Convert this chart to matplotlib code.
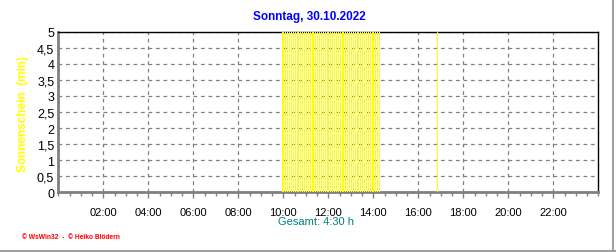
import matplotlib
matplotlib.use("Agg")
import matplotlib.pyplot as plt
from matplotlib.ticker import MultipleLocator, FixedLocator, FuncFormatter

plt.rcParams['font.family'] = ['Liberation Sans', 'DejaVu Sans']

title = "Sonntag, 30.10.2022"
ylabel = "Sonnenschein  (min)"
total_label = "Gesamt: 4:30 h"
footer = "\u00a9 WsWin32  -  \u00a9 Heiko Blödern"

# sunshine intervals (end time, hh:mm) and minutes of sunshine per 5-min interval
times = ["09:55", "10:00", "10:05", "10:10", "10:15", "10:20", "10:25", "10:30",
         "10:35", "10:40", "10:45", "10:50", "10:55", "11:00", "11:05", "11:10",
         "11:15", "11:20", "11:25", "11:30", "11:35", "11:40", "11:45", "11:50",
         "11:55", "12:00", "12:05", "12:10", "12:15", "12:20", "12:25", "12:30",
         "12:35", "12:40", "12:45", "12:50", "12:55", "13:00", "13:05", "13:10",
         "13:15", "13:20", "13:25", "13:30", "13:35", "13:40", "13:45", "13:50",
         "13:55", "14:00", "14:05", "14:10", "14:15", "16:50"]
values = [5, 5, 5, 5, 5, 5, 5, 5, 5, 5, 5, 5, 5, 5, 5, 5, 5, 5, 5, 5, 5, 5, 5, 5,
          5, 5, 5, 5, 5, 5, 5, 5, 5, 5, 5, 5, 5, 5, 5, 5, 5, 5, 5, 5, 5, 5, 5, 5,
          5, 5, 5, 5, 5, 5]
x_tick_labels = ["02:00", "04:00", "06:00", "08:00", "10:00", "12:00",
                 "14:00", "16:00", "18:00", "20:00", "22:00"]

hours = [int(t[:2]) + int(t[3:]) / 60 for t in times]

fig = plt.figure(figsize=(6.16, 2.53), dpi=100)
ax = fig.add_axes([58.4/616, 1-193/253, 540/616, (193-33)/253])

ax.vlines(hours, 0, values, colors="#ffff00", linewidth=0.55, antialiased=False, zorder=3)

ax.set_xlim(0, 24)
ax.set_ylim(0, 5)

major_x = [int(l[:2]) for l in x_tick_labels]
ax.xaxis.set_major_locator(FixedLocator(major_x))
ax.set_xticklabels(x_tick_labels)
ax.xaxis.set_minor_locator(MultipleLocator(0.5))
ax.yaxis.set_major_locator(MultipleLocator(0.5))
ax.yaxis.set_major_formatter(FuncFormatter(lambda v, p: f"{v:g}".replace(".", ",")))

ax.grid(True, which="major", color="#808080", linestyle=(0, (3, 3)), linewidth=0.9, zorder=1)

ax.tick_params(axis="x", which="major", direction="out", length=4, width=1,
               color="#808080", labelsize=8, pad=7)
ax.tick_params(axis="x", which="minor", direction="out", length=3, width=1, color="#808080")
ax.tick_params(axis="y", which="major", length=0, labelsize=9, pad=3)

for s in ["left", "bottom"]:
    ax.spines[s].set_color("#808080")
    ax.spines[s].set_linewidth(2)
for s in ["top", "right"]:
    ax.spines[s].set_color("black")
    ax.spines[s].set_linewidth(1)

fig.text(23/616, 1-114/253, ylabel, rotation=90, color="#ffff00", fontweight="bold",
         fontsize=8.5, ha="center", va="center")
fig.text(309/616, 1-17/253, title, color="#0000ff", fontweight="bold",
         fontsize=8.5, ha="center", va="center")
fig.text(316/616, 1-222/253, total_label, color="#008080",
         fontsize=8, ha="center", va="center")
fig.text(22/616, 1-238/253, footer, color="#ff0000", fontsize=4.8, fontweight="bold",
         ha="left", va="center")

# frame lines at right and bottom
fig.add_artist(plt.Line2D([613/616, 613/616], [0, 1], color="#a0a0a0", linewidth=1.5))
fig.add_artist(plt.Line2D([0, 1], [1/253, 1/253], color="#a0a0a0", linewidth=1.5))

fig.savefig("out.png", dpi=100)
